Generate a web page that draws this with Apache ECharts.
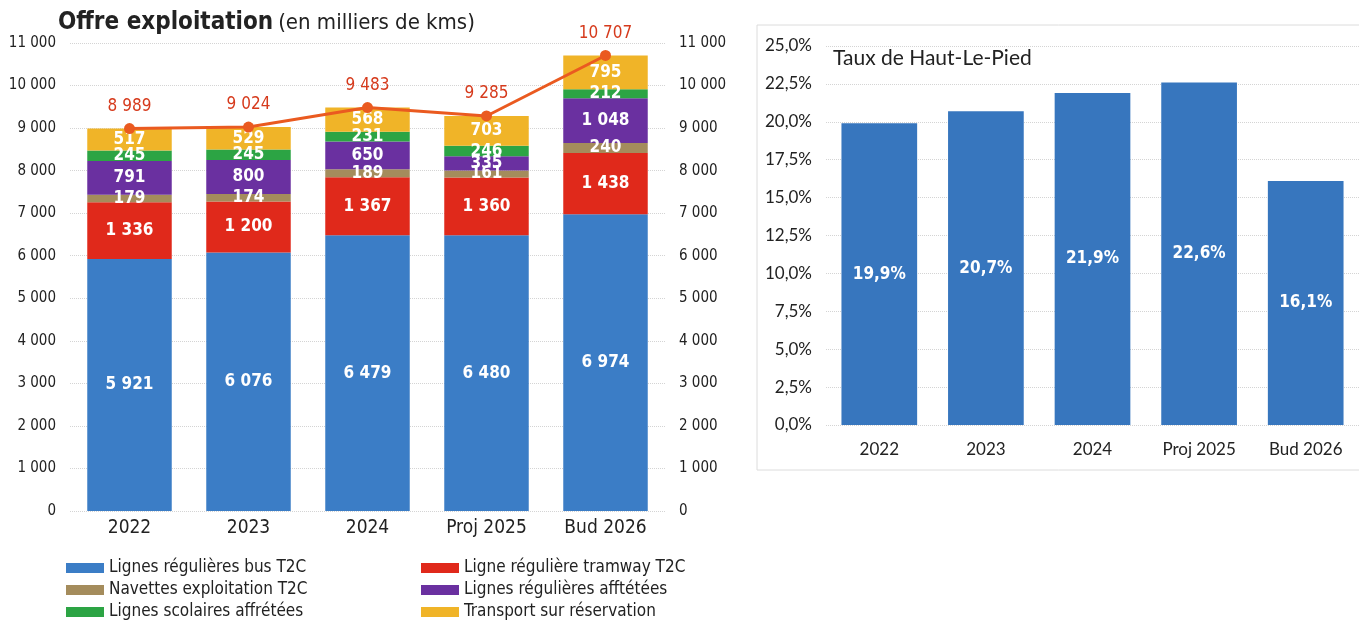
<!DOCTYPE html>
<html>
<head>
<meta charset="utf-8">
<script src="https://cdn.jsdelivr.net/npm/echarts@6/dist/echarts.min.js"></script>
<style>
  html, body { margin: 0; padding: 0; background: #fff; }
  #main { width: 1359px; height: 621px; }
</style>
</head>
<body>
<div id="main"></div>
<script>
// données
var categories = ['2022', '2023', '2024', 'Proj 2025', 'Bud 2026'];
var busT2C = [5921, 6076, 6479, 6480, 6974];
var tramT2C = [1336, 1200, 1367, 1360, 1438];
var navettes = [179, 174, 189, 161, 240];
var affretees = [791, 800, 650, 335, 1048];
var scolaires = [245, 245, 231, 246, 212];
var reservation = [517, 529, 568, 703, 795];
var totals = [8989, 9024, 9483, 9285, 10707];
var hlpRates = [19.9, 20.7, 21.9, 22.6, 16.1];

var chart = echarts.init(document.getElementById('main'));

var condensed = '"DejaVu Sans Condensed", "DejaVu Sans", sans-serif';
var calibri = 'Lato, "Open Sans", sans-serif';

function fmtThousands(v) {
    return String(v).replace(/\B(?=(\d{3})+(?!\d))/g, ' ');
}

function stackSerie(name, data, color) {
    return {
        name: name,
        type: 'bar',
        stack: 'offre',
        xAxisIndex: 0,
        yAxisIndex: 0,
        barWidth: '71%',
        data: data,
        itemStyle: { color: color },
        label: {
            show: true,
            position: 'inside',
            color: '#fff',
            fontFamily: condensed,
            fontWeight: 'bold',
            fontSize: 17,
            formatter: function (p) { return fmtThousands(p.value); }
        }
    };
}

var legendBase = {
    orient: 'vertical',
    top: 559,
    padding: 0,
    itemWidth: 38,
    itemHeight: 10,
    itemGap: 4,
    icon: 'rect',
    textStyle: { fontFamily: condensed, fontSize: 17, color: '#222', lineHeight: 18 }
};

var option = {
    animation: false,
    title: [{
        text: '{a|Offre exploitation} {b|(en milliers de kms)}',
        left: 53,
        top: 6,
        textStyle: {
            rich: {
                a: { fontFamily: condensed, fontSize: 24, fontWeight: 'bold', color: '#222' },
                b: { fontFamily: condensed, fontSize: 22, fontWeight: 'normal', color: '#222' }
            }
        }
    }, {
        text: 'Taux de Haut-Le-Pied',
        left: 828,
        top: 43,
        textStyle: { fontFamily: calibri, fontSize: 21, fontWeight: 'normal', color: '#222' }
    }],
    graphic: [{
        type: 'rect',
        shape: { x: 757, y: 25, width: 610, height: 445 },
        style: { fill: 'none', stroke: '#dcdcdc', lineWidth: 1 },
        silent: true
    }],
    legend: [
        Object.assign({}, legendBase, {
            left: 66,
            data: ['Lignes régulières bus T2C', 'Navettes exploitation T2C', 'Lignes scolaires affrétées']
        }),
        Object.assign({}, legendBase, {
            left: 421,
            data: ['Ligne régulière tramway T2C', 'Lignes régulières afftétées', 'Transport sur réservation']
        })
    ],
    grid: [
        { left: 70, right: 694, top: 43, bottom: 110 },
        { left: 826, right: 0, top: 46, bottom: 196 }
    ],
    xAxis: [{
        type: 'category',
        gridIndex: 0,
        data: categories,
        axisLine: { show: false },
        axisTick: { show: false },
        axisLabel: { fontFamily: condensed, fontSize: 19, color: '#222', margin: 8 }
    }, {
        type: 'category',
        gridIndex: 1,
        data: categories,
        axisLine: { show: false },
        axisTick: { show: false },
        axisLabel: { fontFamily: calibri, fontSize: 17, color: '#222', margin: 16 }
    }],
    yAxis: [{
        type: 'value',
        gridIndex: 0,
        min: 0,
        max: 11000,
        interval: 1000,
        axisLine: { show: false },
        axisTick: { show: false },
        axisLabel: {
            fontFamily: condensed, fontSize: 15, color: '#222', margin: 14,
            formatter: function (v) { return fmtThousands(v); }
        },
        splitLine: { lineStyle: { color: '#d4d4d4', type: 'dotted' } }
    }, {
        type: 'value',
        gridIndex: 0,
        position: 'right',
        min: 0,
        max: 11000,
        interval: 1000,
        axisLine: { show: false },
        axisTick: { show: false },
        axisLabel: {
            fontFamily: condensed, fontSize: 15, color: '#222', margin: 14,
            formatter: function (v) { return fmtThousands(v); }
        },
        splitLine: { show: false }
    }, {
        type: 'value',
        gridIndex: 1,
        min: 0,
        max: 25,
        interval: 2.5,
        axisLine: { show: false },
        axisTick: { show: false },
        axisLabel: {
            fontFamily: calibri, fontSize: 17, color: '#222', margin: 14,
            formatter: function (v) { return v.toFixed(1).replace('.', ',') + '%'; }
        },
        splitLine: { lineStyle: { color: '#d4d4d4', type: 'dotted' } }
    }],
    series: [
        stackSerie('Lignes régulières bus T2C', busT2C, '#3b7dc6'),
        stackSerie('Ligne régulière tramway T2C', tramT2C, '#e0291b'),
        stackSerie('Navettes exploitation T2C', navettes, '#a48c5c'),
        stackSerie('Lignes régulières afftétées', affretees, '#6a30a0'),
        stackSerie('Lignes scolaires affrétées', scolaires, '#2ca444'),
        stackSerie('Transport sur réservation', reservation, '#f0b428'),
        {
            name: 'Total',
            type: 'line',
            xAxisIndex: 0,
            yAxisIndex: 0,
            data: totals,
            symbol: 'circle',
            symbolSize: 11,
            lineStyle: { color: '#ea5a20', width: 3 },
            itemStyle: { color: '#ea5a20' },
            label: {
                show: true,
                position: 'top',
                distance: 8,
                color: '#d63a1c',
                fontFamily: condensed,
                fontSize: 17,
                formatter: function (p) { return fmtThousands(p.value); }
            },
            z: 5
        },
        {
            name: 'Taux de Haut-Le-Pied',
            type: 'bar',
            xAxisIndex: 1,
            yAxisIndex: 2,
            barWidth: '71%',
            data: hlpRates,
            itemStyle: { color: '#3776be' },
            label: {
                show: true,
                position: 'inside',
                color: '#fff',
                fontFamily: condensed,
                fontWeight: 'bold',
                fontSize: 17,
                formatter: function (p) { return p.value.toFixed(1).replace('.', ',') + '%'; }
            }
        }
    ]
};

chart.setOption(option);
</script>
</body>
</html>
